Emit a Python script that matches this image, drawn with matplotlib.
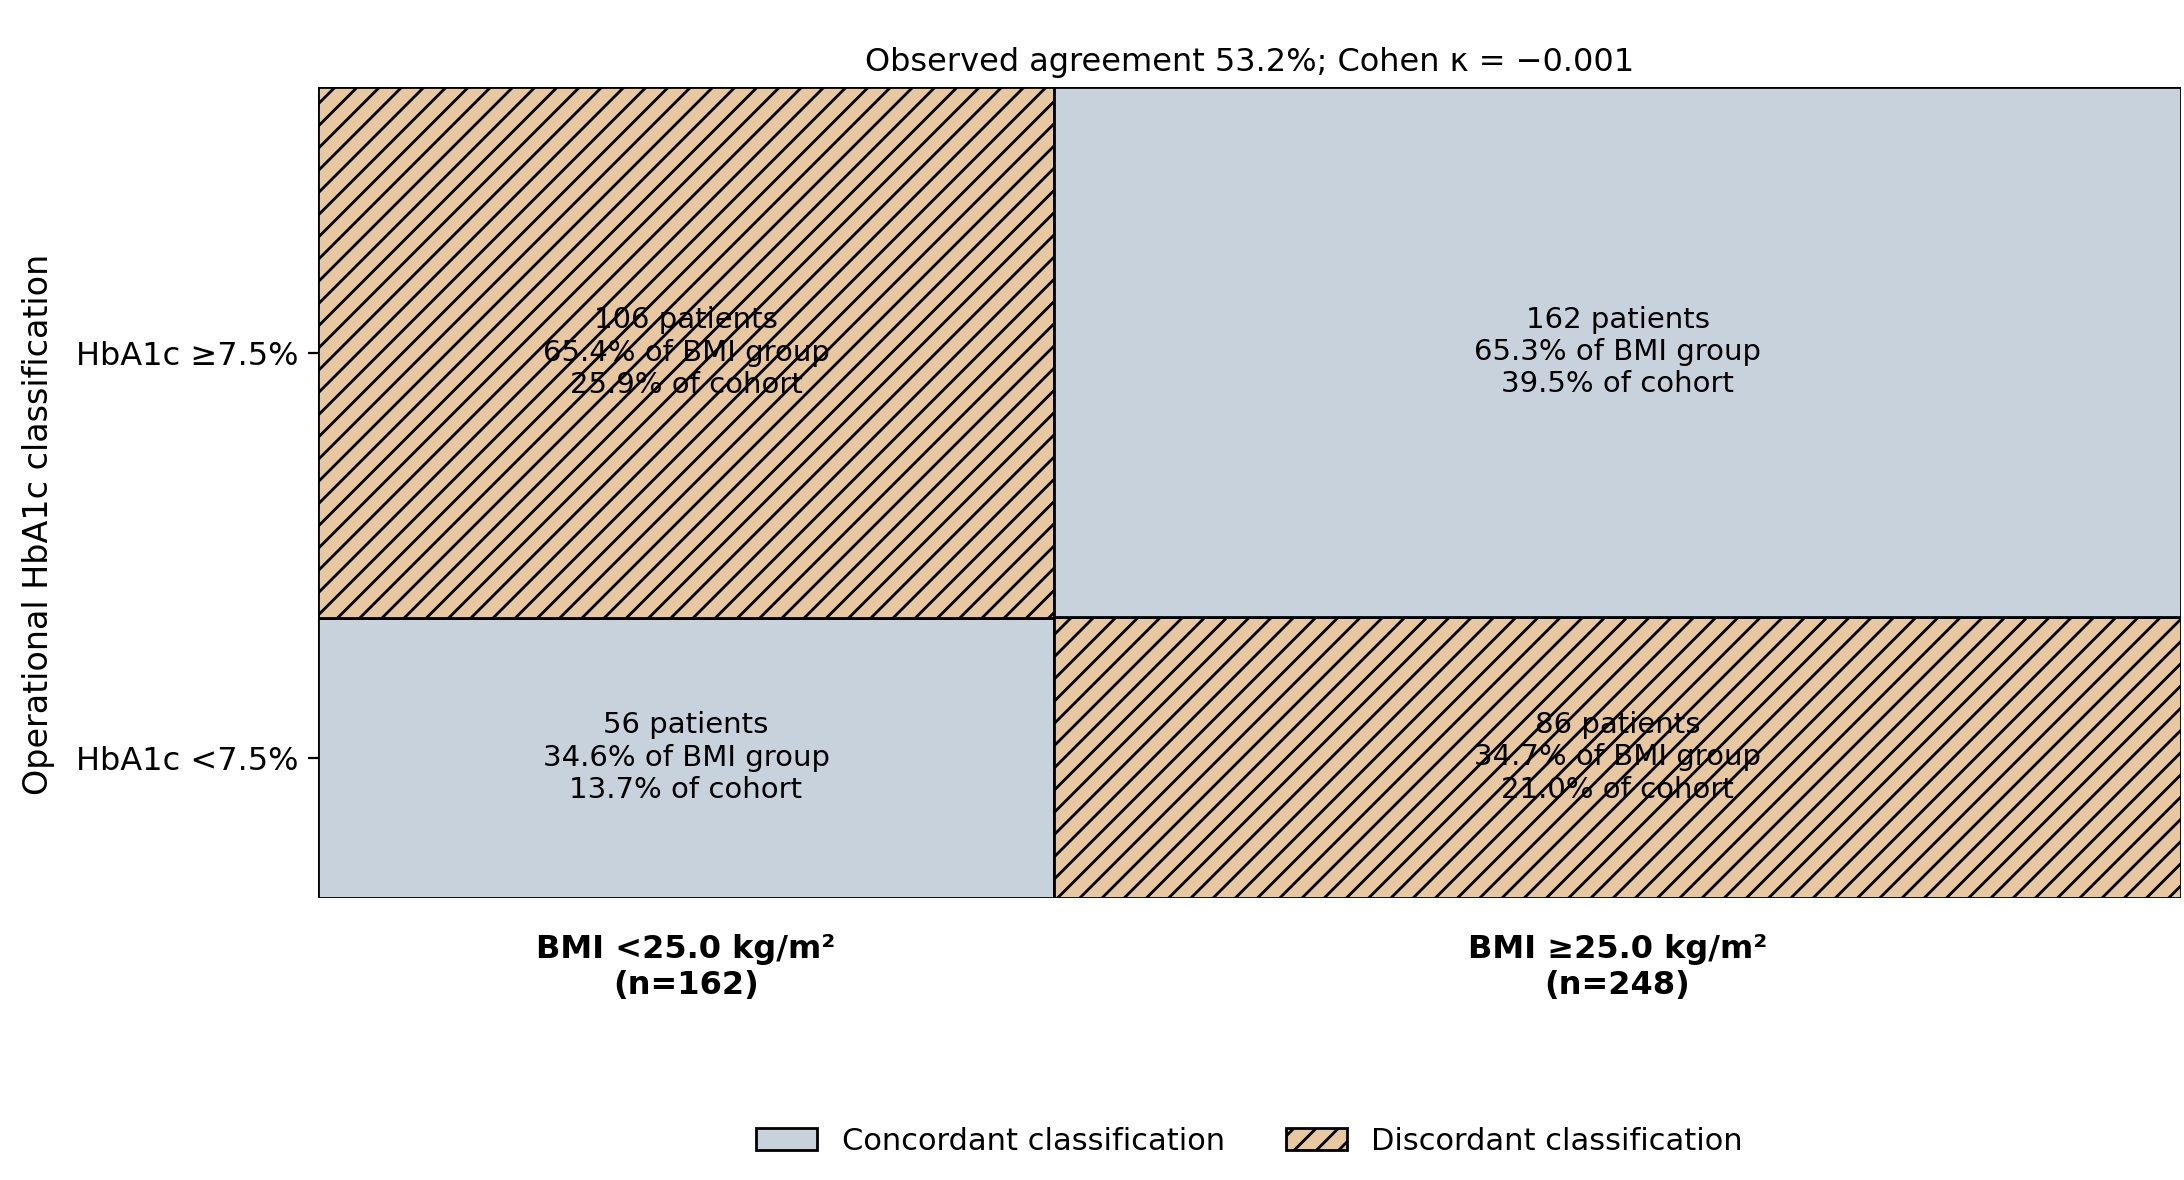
import matplotlib
matplotlib.use("Agg")
import matplotlib.pyplot as plt
from matplotlib.patches import Patch

# counts: rows = HbA1c class, columns = BMI group
bmi_groups = ["BMI <25.0 kg/m²", "BMI ≥25.0 kg/m²"]
hba1c_classes = ["HbA1c <7.5%", "HbA1c ≥7.5%"]
low_hba1c = [56, 86]     # HbA1c <7.5%
high_hba1c = [106, 162]  # HbA1c ≥7.5%
concordant = [[True, False], [False, True]]  # [row][col]

col_colors = {True: "#c8d2dc", False: "#e8c8a0"}

fig, ax = plt.subplots(figsize=(10.92, 5.9), dpi=200)
fig.subplots_adjust(left=0.1456, right=0.9986, top=0.926, bottom=0.239)

totals = [a + b for a, b in zip(low_hba1c, high_hba1c)]
cohort = sum(totals)
widths = [t / cohort for t in totals]
lefts = [0, widths[0]]
centers = [l + w / 2 for l, w in zip(lefts, widths)]

rows = [low_hba1c, high_hba1c]
for j in range(2):
    bottom = 0
    for i in range(2):
        n = rows[i][j]
        h = n / totals[j]
        conc = concordant[i][j]
        ax.bar(lefts[j], h, width=widths[j], bottom=bottom, align="edge",
               color=col_colors[conc], edgecolor="black", linewidth=1,
               hatch=None if conc else "///")
        ax.text(centers[j], bottom + h / 2,
                f"{n} patients\n{100 * n / totals[j]:.1f}% of BMI group\n{100 * n / cohort:.1f}% of cohort",
                ha="center", va="center", fontsize=10.5)
        bottom += h

ax.set_xlim(0, 1)
ax.set_ylim(0, 1)
for s in ax.spines.values():
    s.set_visible(False)

ax.set_xticks(centers)
ax.set_xticklabels([f"{g}\n(n={t})" for g, t in zip(bmi_groups, totals)],
                   fontweight="bold", fontsize=11.5)
ax.tick_params(axis="x", length=0, pad=13)

y0 = low_hba1c[0] / totals[0]
ax.set_yticks([y0 / 2, y0 + (1 - y0) / 2])
ax.set_yticklabels(hba1c_classes, fontsize=11.5)
ax.set_ylabel("Operational HbA1c classification", fontsize=12)
ax.yaxis.set_label_coords(-0.141, 0.461)

ax.set_title("Observed agreement 53.2%; Cohen κ = −0.001", fontsize=11.5)

handles = [Patch(facecolor=col_colors[True], edgecolor="black", label="Concordant classification"),
           Patch(facecolor=col_colors[False], edgecolor="black", hatch="///", label="Discordant classification")]
ax.legend(handles=handles, loc="center", bbox_to_anchor=(0.5, -0.30), ncol=2,
          frameon=False, fontsize=11)

fig.savefig("out.png", dpi=200)
